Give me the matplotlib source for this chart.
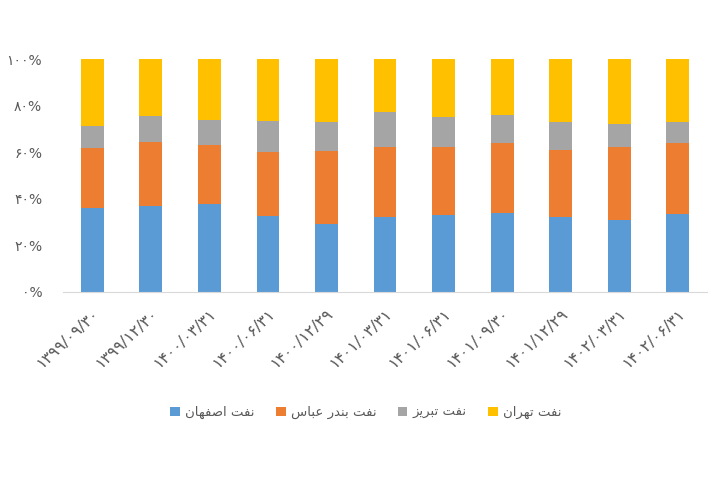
import matplotlib
matplotlib.use("Agg")
import matplotlib.pyplot as plt
import numpy as np

# region data
dates = ["1399/09/30", "1399/12/30", "1400/03/31", "1400/06/31", "1400/12/29",
         "1401/03/31", "1401/06/31", "1401/09/30", "1401/12/29", "1402/03/31", "1402/06/31"]
isfahan = [35.9, 36.7, 37.9, 32.4, 29.2, 32.0, 32.9, 33.9, 32.0, 31.0, 33.5]
bandar_abbas = [25.7, 27.8, 25.0, 27.8, 31.4, 30.2, 29.3, 30.2, 29.0, 31.2, 30.6]
tabriz = [9.8, 11.2, 10.7, 13.0, 12.2, 14.9, 12.9, 12.0, 11.8, 10.0, 8.7]
tehran = [28.6, 24.3, 26.4, 26.8, 27.2, 22.9, 24.9, 23.9, 27.2, 27.8, 27.2]
names = ["نفت اصفهان", "نفت بندر عباس", "نفت تبریز", "نفت تهران"]
colors = ["#5B9BD5", "#ED7D31", "#A5A5A5", "#FFC000"]
# endregion

fa_digits = str.maketrans("0123456789", "۰۱۲۳۴۵۶۷۸۹")

# small arabic shaper: isolated, final, initial, medial
forms = {
    "ا": ("\uFE8D", "\uFE8E", None, None),
    "ب": ("\uFE8F", "\uFE90", "\uFE91", "\uFE92"),
    "ت": ("\uFE95", "\uFE96", "\uFE97", "\uFE98"),
    "د": ("\uFEA9", "\uFEAA", None, None),
    "ر": ("\uFEAD", "\uFEAE", None, None),
    "ز": ("\uFEAF", "\uFEB0", None, None),
    "س": ("\uFEB1", "\uFEB2", "\uFEB3", "\uFEB4"),
    "ص": ("\uFEB9", "\uFEBA", "\uFEBB", "\uFEBC"),
    "ع": ("\uFEC9", "\uFECA", "\uFECB", "\uFECC"),
    "ف": ("\uFED1", "\uFED2", "\uFED3", "\uFED4"),
    "ن": ("\uFEE5", "\uFEE6", "\uFEE7", "\uFEE8"),
    "ه": ("\uFEE9", "\uFEEA", "\uFEEB", "\uFEEC"),
    "ی": ("\uFBFC", "\uFBFD", "\uFEF3", "\uFEF4"),
}

def shape(s):
    out = []
    for i, ch in enumerate(s):
        if ch not in forms:
            out.append(ch)
            continue
        prev = s[i - 1] if i > 0 else " "
        nxt = s[i + 1] if i < len(s) - 1 else " "
        join_prev = prev in forms and forms[prev][2] is not None
        join_next = nxt in forms and forms[ch][2] is not None
        iso, fin, ini, med = forms[ch]
        if join_prev and join_next:
            out.append(med)
        elif join_prev:
            out.append(fin)
        elif join_next:
            out.append(ini)
        else:
            out.append(iso)
    return "".join(out)[::-1]

plt.rcParams['font.family'] = ['DejaVu Sans']

fig = plt.figure(figsize=(7.2, 4.8), dpi=100)
ax = fig.add_axes([0.0875, 0.392, 0.8945, 0.485])

x = np.arange(len(dates))
series = [isfahan, bandar_abbas, tabriz, tehran]
totals = np.sum(series, axis=0)
bottom = np.zeros(len(dates))
for vals, name, c in zip(series, names, colors):
    v = np.array(vals) / totals * 100
    ax.bar(x, v, 0.39, bottom=bottom, color=c, label=shape(name))
    bottom += v

ax.set_xlim(-0.5, len(dates) - 0.5)
ax.set_ylim(0, 100)
ax.set_yticks(range(0, 101, 20))
ax.set_yticklabels([(str(t) + "%").translate(fa_digits) for t in range(0, 101, 20)],
                   color="#595959", fontsize=10)
ax.set_xticks(x)
ax.set_xticklabels([d.translate(fa_digits) for d in dates], rotation=43, ha="right",
                   rotation_mode="anchor", color="#595959", fontsize=11.5)
ax.tick_params(axis="x", length=0, pad=10)
ax.tick_params(axis="y", length=0, pad=15)
for s in ["top", "right", "left"]:
    ax.spines[s].set_visible(False)
ax.spines["bottom"].set_color("#D9D9D9")

fig.legend(loc="center", bbox_to_anchor=(0.508, 0.14), ncol=4, frameon=False,
           fontsize=9.5, handlelength=0.75, handleheight=0.75, handletextpad=0.4,
           columnspacing=1.6, labelcolor="#595959")

plt.savefig("out.png", dpi=100)
